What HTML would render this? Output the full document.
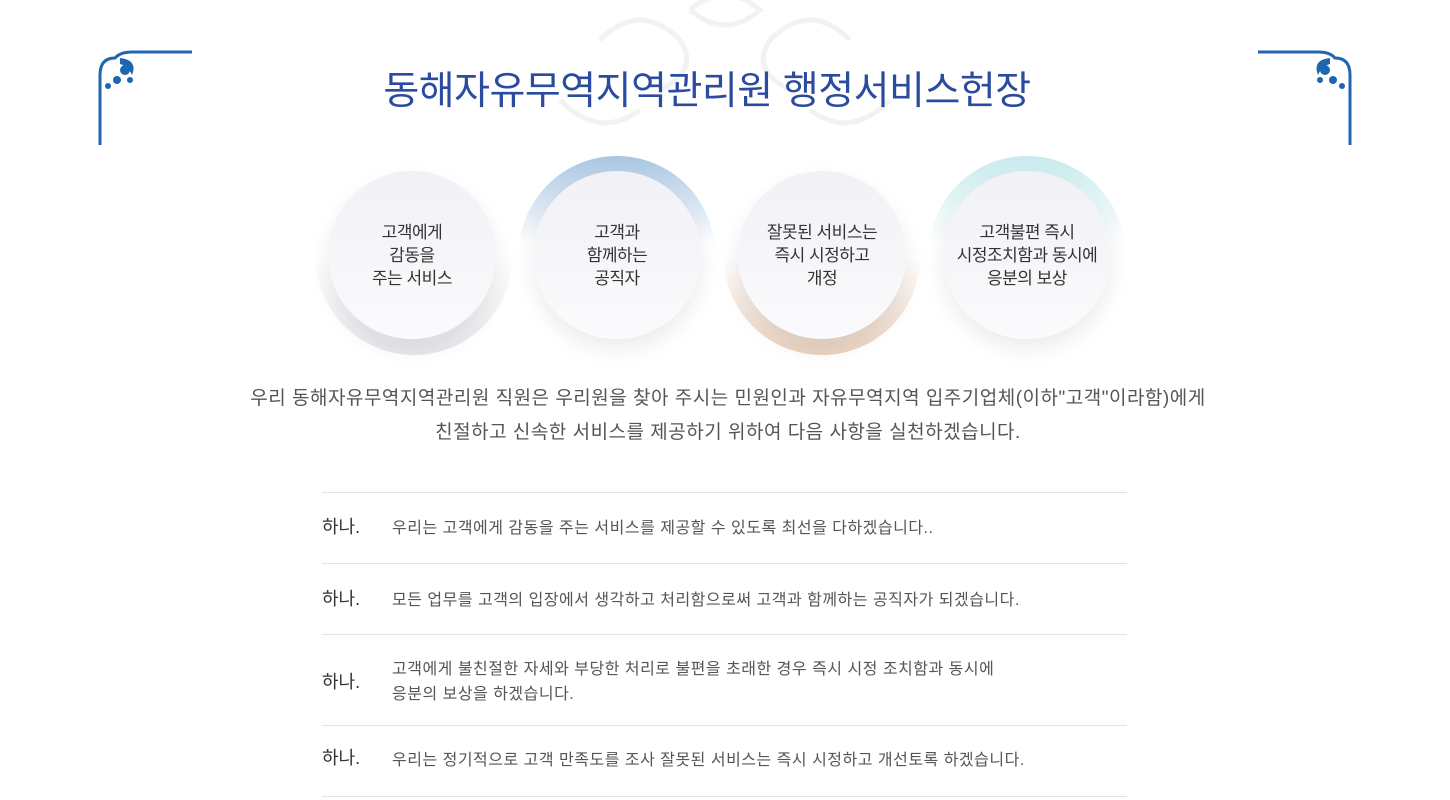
<!DOCTYPE html>
<html><head><meta charset="utf-8"><style>
body{margin:0;width:1450px;height:800px;background:#fff;position:relative;overflow:hidden;font-family:"Liberation Sans","Noto Sans CJK KR",sans-serif;}
.abs{position:absolute}
.title{left:0;width:1414px;top:64px;text-align:center;font-size:39px;color:#2b4b9f;letter-spacing:-0.5px;line-height:56px}
.halo{position:absolute;width:196px;height:196px;border-radius:50%}
.c{position:absolute;width:168px;height:168px;border-radius:50%;background:linear-gradient(#f1f1f6,#fbfbfd);box-shadow:0 10px 22px rgba(0,0,0,0.08);display:flex;align-items:center;justify-content:center;text-align:center;font-size:17px;line-height:23px;color:#333;letter-spacing:-0.5px}
.p{left:0;width:1456px;text-align:center;top:382px;font-size:19px;line-height:34px;color:#555;letter-spacing:0.5px}
.line{left:322px;width:805px;height:1px;background:#e2e2e2}
.h{left:322px;font-size:18px;color:#333}
.t{left:392px;font-size:16px;color:#555;line-height:25px;letter-spacing:0.5px}
</style></head><body>
<svg class="abs" style="left:0;top:0" width="1450" height="160">
<g fill="none" stroke="#f2f2f2" stroke-width="5">
<path d="M600 40 Q640 0 680 40 Q700 70 660 90"/><path d="M850 40 Q810 0 770 40 Q750 70 790 90"/>
<path d="M690 10 Q725 -20 760 10 Q725 40 690 10"/><path d="M560 100 Q600 140 640 110"/><path d="M890 100 Q850 140 810 110"/>
</g>
<g stroke="#1f66b1" stroke-width="3" fill="none">
<path d="M100 145 V75 Q100 58 115 58 Q120 52 132 52 H192"/>
<path d="M1350 145 V75 Q1350 58 1335 58 Q1330 52 1318 52 H1258"/>
</g>
<g fill="#1f66b1">
<circle cx="125" cy="70" r="5"/><circle cx="117" cy="80" r="4"/><circle cx="130" cy="80" r="3"/><circle cx="108" cy="86" r="3"/><path d="M120 58 Q138 60 132 75 Q128 66 120 64Z"/>
<circle cx="1325" cy="70" r="5"/><circle cx="1333" cy="80" r="4"/><circle cx="1320" cy="80" r="3"/><circle cx="1342" cy="86" r="3"/><path d="M1330 58 Q1312 60 1318 75 Q1322 66 1330 64Z"/>
</g>
</svg>
<div class="abs title">동해자유무역지역관리원 행정서비스헌장</div>

<div class="halo" style="left:316px;top:159px;background:linear-gradient(to bottom,rgba(255,255,255,0) 50%,#e4e5ea);opacity:.9"></div>
<div class="halo" style="left:519px;top:156px;background:linear-gradient(to bottom,#a9c6e2,rgba(255,255,255,0) 45%)"></div>
<div class="halo" style="left:724px;top:159px;background:linear-gradient(to bottom,rgba(255,255,255,0) 50%,#ead2bf)"></div>
<div class="halo" style="left:929px;top:156px;background:linear-gradient(to bottom,#c8eaed,rgba(255,255,255,0) 45%)"></div>

<div class="c" style="left:328px;top:171px">고객에게<br>감동을<br>주는 서비스</div>
<div class="c" style="left:533px;top:171px">고객과<br>함께하는<br>공직자</div>
<div class="c" style="left:738px;top:171px">잘못된 서비스는<br>즉시 시정하고<br>개정</div>
<div class="c" style="left:943px;top:171px">고객불편 즉시<br>시정조치함과 동시에<br>응분의 보상</div>

<div class="abs p">우리 동해자유무역지역관리원 직원은 우리원을 찾아 주시는 민원인과 자유무역지역 입주기업체(이하"고객"이라함)에게<br>친절하고 신속한 서비스를 제공하기 위하여 다음 사항을 실천하겠습니다.</div>

<div class="abs line" style="top:492px"></div>
<div class="abs line" style="top:563px"></div>
<div class="abs line" style="top:634px"></div>
<div class="abs line" style="top:725px"></div>
<div class="abs line" style="top:796px"></div>

<div class="abs h" style="top:513px">하나.</div>
<div class="abs t" style="top:516px">우리는 고객에게 감동을 주는 서비스를 제공할 수 있도록 최선을 다하겠습니다..</div>
<div class="abs h" style="top:585px">하나.</div>
<div class="abs t" style="top:588px">모든 업무를 고객의 입장에서 생각하고 처리함으로써 고객과 함께하는 공직자가 되겠습니다.</div>
<div class="abs h" style="top:668px">하나.</div>
<div class="abs t" style="top:657px">고객에게 불친절한 자세와 부당한 처리로 불편을 초래한 경우 즉시 시정 조치함과 동시에<br>응분의 보상을 하겠습니다.</div>
<div class="abs h" style="top:744px">하나.</div>
<div class="abs t" style="top:748px">우리는 정기적으로 고객 만족도를 조사 잘못된 서비스는 즉시 시정하고 개선토록 하겠습니다.</div>
</body></html>
